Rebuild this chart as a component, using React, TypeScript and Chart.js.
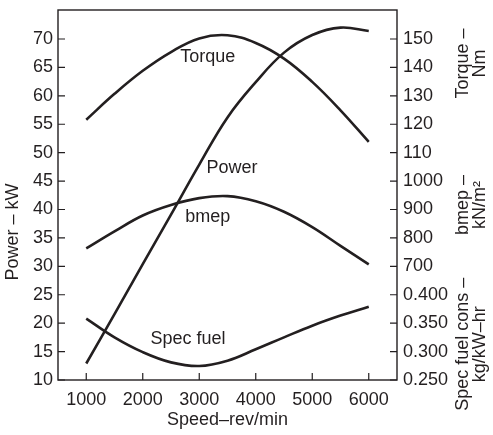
import React, { useEffect, useRef } from "react";
import { Chart, registerables } from "chart.js";
Chart.register(...registerables);

// ---- data ----
const speeds = [1000, 1500, 2000, 2500, 3000, 3500, 4000, 4500, 5000, 5500, 6000];
const powerKW = [12.9, 21.6, 30.4, 39.1, 47.9, 56.2, 62.4, 67.6, 70.7, 72.0, 71.4];
const torqueNm = [121.6, 130.7, 138.8, 145.4, 150.2, 151.3, 148.6, 143.1, 134.9, 124.9, 113.8];
const bmepKN = [763, 823, 879, 916, 940, 947, 929, 892, 838, 772, 707];
const specFuel = [0.358, 0.325, 0.299, 0.281, 0.2746, 0.284, 0.304, 0.325, 0.3455, 0.3633, 0.379];

const speedTicks = [1000, 2000, 3000, 4000, 5000, 6000];
const powerTicks = [10, 15, 20, 25, 30, 35, 40, 45, 50, 55, 60, 65, 70];
const rightTickLabels = [
  "0.250", "0.300", "0.350", "0.400",
  "700", "800", "900", "1000",
  "110", "120", "130", "140", "150",
];

// curve labels in data coordinates (rpm, left-scale units)
const curveLabels = ["Torque", "Power", "bmep", "Spec fuel"];
const curveLabelSpeeds = [3150, 3580, 3150, 2800];
const curveLabelValues = [66.8, 47.3, 38.6, 17.2];

// right-hand titles, centred at left-scale values
const rightTitles = [["Torque \u2013", "Nm"], ["bmep \u2013", "kN/m\u00b2"], ["Spec fuel cons \u2013", "kg/kW\u2013hr"]];
const rightTitleValues = [65.7, 40.8, 16.3];

const xMin = 500, xMax = 6500;
const pMin = 10, pMax = 75.1;
// linear relations between right-hand scales and the left (power) scale
const torqueOf = (p: number) => 2 * p + 10;
const bmepOf = (p: number) => 20 * p + 100;
const sfcOf = (p: number) => 0.01 * p + 0.15;

const FONT = "'Liberation Sans', Arial, Helvetica, sans-serif";
const INK = "#231f20";

const pts = (ys: number[]) => speeds.map((x, i) => ({ x, y: ys[i] }));

const decorPlugin = {
  id: "decor",
  afterDraw(chart: any) {
    const { ctx, chartArea: a, scales } = chart;
    const xs = scales.x, yl = scales.y, yr = scales.yRight;
    ctx.save();
    ctx.strokeStyle = INK;
    ctx.lineWidth = 1.4;
    ctx.strokeRect(a.left, a.top, a.right - a.left, a.bottom - a.top);
    ctx.lineWidth = 1.2;
    const tl = 7;
    ctx.beginPath();
    speedTicks.forEach((v) => {
      const px = xs.getPixelForValue(v);
      ctx.moveTo(px, a.bottom);
      ctx.lineTo(px, a.bottom - tl);
    });
    powerTicks.forEach((v) => {
      const py = yl.getPixelForValue(v);
      ctx.moveTo(a.left, py);
      ctx.lineTo(a.left + tl, py);
      const pr = yr.getPixelForValue(v);
      ctx.moveTo(a.right, pr);
      ctx.lineTo(a.right - tl, pr);
    });
    ctx.stroke();

    ctx.fillStyle = INK;
    ctx.font = `18px ${FONT}`;
    ctx.textAlign = "center";
    ctx.textBaseline = "middle";
    curveLabels.forEach((t, i) => {
      ctx.fillText(t, xs.getPixelForValue(curveLabelSpeeds[i]), yl.getPixelForValue(curveLabelValues[i]));
    });

    // x title
    ctx.fillText("Speed\u2013rev/min", (a.left + a.right) / 2, 420);

    // left title
    ctx.save();
    ctx.translate(13, 232);
    ctx.rotate(-Math.PI / 2);
    ctx.fillText("Power \u2013 kW", 0, 0);
    ctx.restore();

    // right titles
    rightTitles.forEach((lines, i) => {
      const cy = yl.getPixelForValue(rightTitleValues[i]);
      lines.forEach((line, j) => {
        ctx.save();
        ctx.translate(463 + j * 17, cy);
        ctx.rotate(-Math.PI / 2);
        ctx.fillText(line, 0, 0);
        ctx.restore();
      });
    });
    ctx.restore();
  },
};

const lineDs = (data: any[], axis: string) => ({
  data,
  yAxisID: axis,
  borderColor: INK,
  borderWidth: 2.6,
  pointRadius: 0,
  tension: 0.4,
  fill: false,
});

export default function App() {
  const ref = useRef<HTMLCanvasElement>(null);
  useEffect(() => {
    if (!ref.current) return;
    const tickFont = { family: FONT, size: 18 };
    const chart = new Chart(ref.current, {
      type: "line",
      data: {
        datasets: [
          lineDs(pts(powerKW), "y"),
          lineDs(pts(torqueNm), "yTorque"),
          lineDs(pts(bmepKN), "yBmep"),
          lineDs(pts(specFuel), "ySfc"),
        ],
      },
      plugins: [decorPlugin],
      options: {
        responsive: false,
        animation: false,
        devicePixelRatio: 1,
        layout: { padding: { top: 10, left: 0, right: 0, bottom: 0 } },
        plugins: { legend: { display: false }, tooltip: { enabled: false }, title: { display: false } },
        scales: {
          x: {
            type: "linear",
            position: "bottom",
            min: xMin,
            max: xMax,
            grid: { display: false, drawTicks: false },
            border: { display: false },
            afterBuildTicks: (s: any) => { s.ticks = speedTicks.map((v) => ({ value: v })); },
            afterFit: (s: any) => { s.height = 55; s.paddingLeft = 0; s.paddingRight = 0; },
            ticks: { color: INK, font: tickFont, padding: 9, maxRotation: 0, callback: (v: any) => String(v) },
          },
          y: {
            type: "linear",
            position: "left",
            min: pMin,
            max: pMax,
            grid: { display: false, drawTicks: false },
            border: { display: false },
            afterBuildTicks: (s: any) => { s.ticks = powerTicks.map((v) => ({ value: v })); },
            afterFit: (s: any) => { s.width = 58; s.paddingTop = 0; s.paddingBottom = 0; },
            ticks: { color: INK, font: tickFont, padding: 5, callback: (v: any) => String(v) },
          },
          yRight: {
            type: "linear",
            position: "right",
            min: pMin,
            max: pMax,
            grid: { display: false, drawTicks: false },
            border: { display: false },
            afterBuildTicks: (s: any) => { s.ticks = powerTicks.map((v) => ({ value: v })); },
            afterFit: (s: any) => { s.width = 96; s.paddingTop = 0; s.paddingBottom = 0; },
            ticks: {
              color: INK,
              font: tickFont,
              padding: 6,
              callback: (v: any) => rightTickLabels[powerTicks.indexOf(Number(v))] ?? "",
            },
          },
          yTorque: { type: "linear", display: false, min: torqueOf(pMin), max: torqueOf(pMax) },
          yBmep: { type: "linear", display: false, min: bmepOf(pMin), max: bmepOf(pMax) },
          ySfc: { type: "linear", display: false, min: sfcOf(pMin), max: sfcOf(pMax) },
        },
      } as any,
    });
    return () => chart.destroy();
  }, []);
  return (
    <div style={{ position: "fixed", left: 0, top: 0, width: 493, height: 435, background: "#fff" }}>
      <canvas ref={ref} width={493} height={435} style={{ display: "block" }} />
    </div>
  );
}
